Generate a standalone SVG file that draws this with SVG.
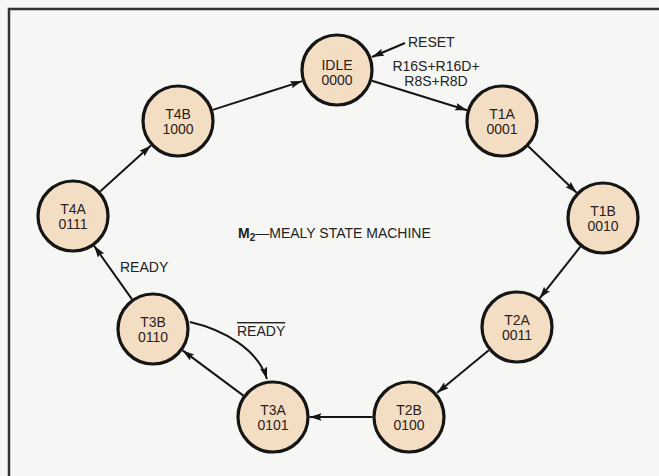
<svg xmlns="http://www.w3.org/2000/svg" width="659" height="476" viewBox="0 0 659 476">
<defs>
<style>
.node circle{fill:#f4dec3;stroke:#151515;stroke-width:3.2}
.node text{font-family:"Liberation Sans",Arial,sans-serif;font-size:14px;fill:#2a211c;text-anchor:middle}
.lbl{font-family:"Liberation Sans",Arial,sans-serif;font-size:14px;fill:#222}
.edge{fill:none;stroke:#151515;stroke-width:2;marker-end:url(#ah)}
</style>
<marker id="ah" markerUnits="userSpaceOnUse" markerWidth="13" markerHeight="8" refX="12" refY="3.75" orient="auto">
<path d="M0,0 L12,3.75 L0,7.5 L2,3.75 Z" fill="#151515"/>
</marker>
</defs>
<rect x="0" y="0" width="659" height="476" fill="#f6f6f4"/>
<path d="M9,476 L9,9 L659,9" fill="none" stroke="#333" stroke-width="2.5"/>

<g id="connectors">
<line class="edge" x1="212.7" y1="109.9" x2="302.3" y2="81.1"/>
<line class="edge" x1="371.9" y1="80.8" x2="467.1" y2="110.2"/>
<line class="edge" x1="528.3" y1="146.3" x2="576.7" y2="192.7"/>
<line class="edge" x1="580.4" y1="246.7" x2="539.6" y2="298.3"/>
<line class="edge" x1="488.8" y1="350.2" x2="437.2" y2="392.8"/>
<line class="edge" x1="372.5" y1="417" x2="309.5" y2="417"/>
<line class="edge" x1="243.4" y1="395.6" x2="182.6" y2="350.4"/>
<path class="edge" d="M190,322 C225,330 258,350 267,379"/>
<line class="edge" x1="131.9" y1="299.2" x2="94.1" y2="245.8"/>
<line class="edge" x1="100.1" y1="191.5" x2="150.9" y2="145.5"/>
<line class="edge" x1="405" y1="43" x2="372" y2="57"/>
</g>

<text class="lbl" x="408" y="47">RESET</text>
<text class="lbl" x="436" y="70.5" text-anchor="middle" font-size="13.5">R16S+R16D+</text>
<text class="lbl" x="436" y="86" text-anchor="middle" font-size="13.5">R8S+R8D</text>
<text class="lbl" x="120" y="272">READY</text>
<text class="lbl" x="237" y="336" text-decoration="overline">READY</text>
<text class="lbl" x="238" y="238"><tspan font-weight="bold">M</tspan><tspan font-weight="bold" font-size="10" dy="3">2</tspan><tspan dy="-3">—MEALY STATE MACHINE</tspan></text>

<g id="IDLE" class="node"><circle cx="337" cy="70" r="35"/><text x="337" y="70">IDLE</text><text x="337" y="85">0000</text></g>
<g id="T1A" class="node"><circle cx="502" cy="121" r="35"/><text x="502" y="119">T1A</text><text x="502" y="134">0001</text></g>
<g id="T1B" class="node"><circle cx="603" cy="218" r="35"/><text x="603" y="216">T1B</text><text x="603" y="231">0010</text></g>
<g id="T2A" class="node"><circle cx="517" cy="327" r="35"/><text x="517" y="325">T2A</text><text x="517" y="340">0011</text></g>
<g id="T2B" class="node"><circle cx="409" cy="417" r="35"/><text x="409" y="415">T2B</text><text x="409" y="430">0100</text></g>
<g id="T3A" class="node"><circle cx="273" cy="417" r="35"/><text x="273" y="415">T3A</text><text x="273" y="430">0101</text></g>
<g id="T3B" class="node"><circle cx="153" cy="329" r="35"/><text x="153" y="327">T3B</text><text x="153" y="342">0110</text></g>
<g id="T4A" class="node"><circle cx="73" cy="216" r="35"/><text x="73" y="214">T4A</text><text x="73" y="229">0111</text></g>
<g id="T4B" class="node"><circle cx="178" cy="121" r="35"/><text x="178" y="119">T4B</text><text x="178" y="134">1000</text></g>
</svg>
